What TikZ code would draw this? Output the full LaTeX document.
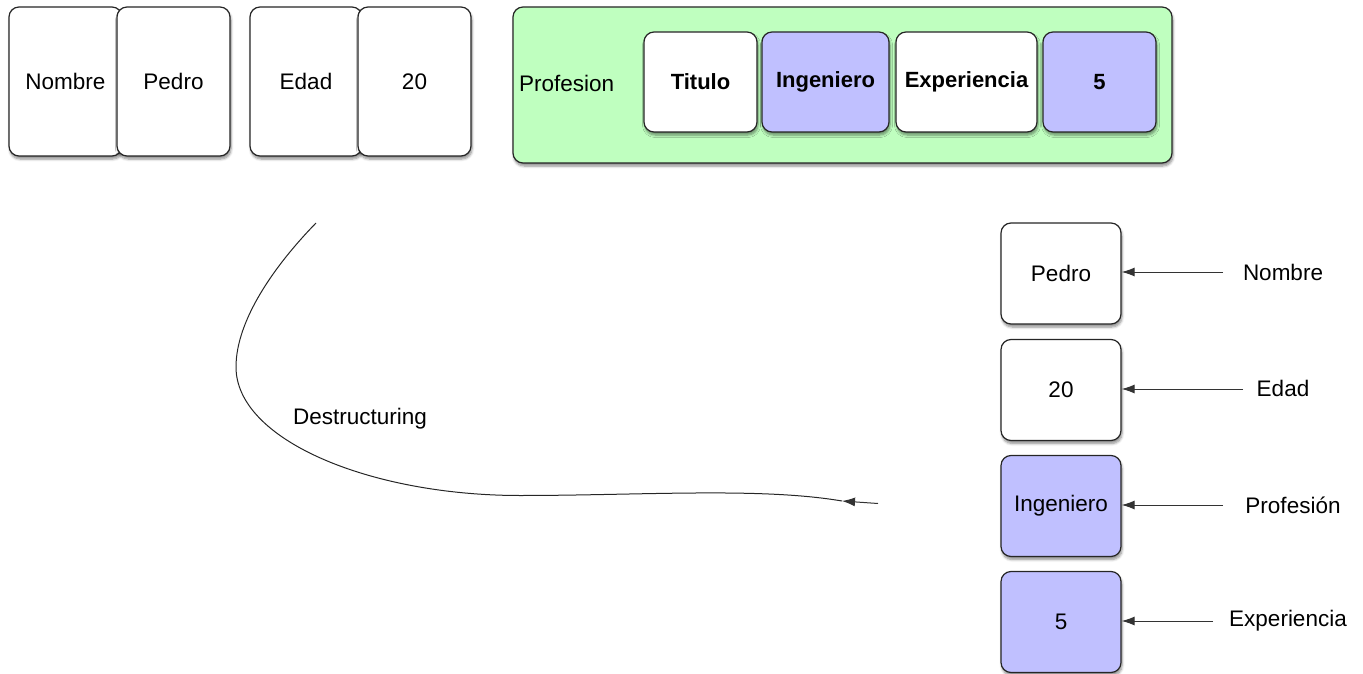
\documentclass[tikz,border=0pt]{standalone}
\usepackage{fontspec}
\setmainfont{Liberation Sans}
\usetikzlibrary{arrows.meta,shadows.blur}
\definecolor{cardgreen}{RGB}{191,255,191}
\definecolor{cardpurple}{RGB}{192,192,255}
\tikzset{
  card/.style={draw=black!85, line width=1.2pt, rounded corners=10pt, fill=white,
    inner sep=0pt, align=center, font=\fontsize{22.5}{26}\selectfont,
    blur shadow={shadow xshift=1pt, shadow yshift=-3pt, shadow blur steps=6, shadow blur radius=2.5pt, shadow opacity=45}},
  bigcard/.style={card, minimum width=113pt, minimum height=149pt},
  smallcard/.style={card, minimum width=113pt, minimum height=100pt},
  colcard/.style={card, minimum width=120pt, minimum height=101pt},
  purple/.style={fill=cardpurple},
  bold/.style={font=\fontsize{22}{26}\selectfont\bfseries},
  lbl/.style={font=\fontsize{22.5}{26}\selectfont, inner sep=0pt},
  pointer/.style={draw=black!80, line width=1pt, -{Latex[length=13pt,width=9pt]}},
}
\begin{document}
\begin{tikzpicture}[x=1pt,y=-1pt]
\useasboundingbox (0,0) rectangle (1363,674);
% top-left cards
\node[bigcard] (kNombre) at (65.5,81.5) {Nombre};
\node[bigcard] (vPedro) at (173.5,81.5) {Pedro};
\node[bigcard, minimum width=112pt] (kEdad) at (306,81.5) {Edad};
\node[bigcard] (vVeinte) at (414.5,81.5) {20};
% green container
\node[card, fill=cardgreen, minimum width=659pt, minimum height=156pt] (prof) at (842.5,85) {};
\node[lbl, anchor=west] (profLbl) at (519,83) {Profesion};
\node[smallcard, bold] (kTitulo) at (700.5,82) {Titulo};
\node[smallcard, bold, purple, minimum width=127pt] (vIng) at (825.5,82) {Ingeniero};
\node[smallcard, bold, minimum width=141pt] (kExp) at (966.5,82) {Experiencia};
\node[smallcard, bold, purple] (vCinco) at (1099.5,82) {5};
% right column
\node[colcard] (rPedro) at (1061,273.5) {Pedro};
\node[colcard] (rVeinte) at (1061,390) {20};
\node[colcard, purple] (rIng) at (1061,506) {Ingeniero};
\node[colcard, purple] (rCinco) at (1061,622) {5};
% labels
\node[lbl] (lNombre) at (1283,272) {Nombre};
\node[lbl] (lEdad) at (1283,388) {Edad};
\node[lbl] (lProf) at (1293,505) {Profesión};
\node[lbl] (lExp) at (1288,621) {Experiencia};
\coordinate (sNombre) at (1223,272);
\coordinate (sEdad) at (1243,389);
\coordinate (sProf) at (1223,505);
\coordinate (sExp) at (1213,621);
\draw[pointer] (sNombre) -- (rPedro.east |- sNombre);
\draw[pointer] (sEdad) -- (rVeinte.east |- sEdad);
\draw[pointer] (sProf) -- (rIng.east |- sProf);
\draw[pointer] (sExp) -- (rCinco.east |- sExp);
% destructuring curve
\coordinate (cStart) at (316,223);
\coordinate (cLeft) at (236,367);
\coordinate (cMid) at (520,495.5);
\coordinate (cTip) at (842,501);
\coordinate (cTail) at (878,503.5);
\draw[line width=1pt, black!85] (cStart) .. controls (275,265) and (236,320) .. (cLeft)
  .. controls (236,440) and (370,495.5) .. (cMid)
  .. controls (640,495.5) and (760,487) .. (cTip);
\draw[pointer] (cTail) -- (cTip);
\node[lbl] (dLbl) at (360,419) {Destructuring};
\end{tikzpicture}
\end{document}
